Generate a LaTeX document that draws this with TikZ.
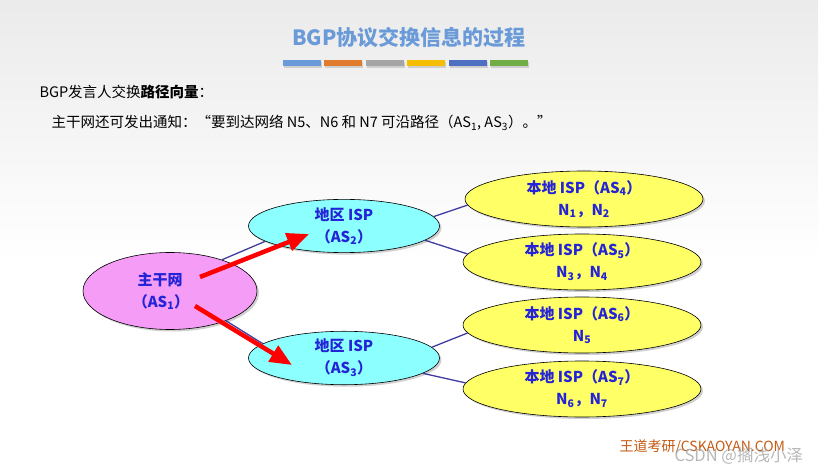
\documentclass[tikz,border=0pt]{standalone}
\usepackage{fontspec}
\setmainfont{Noto Sans CJK SC}
\usetikzlibrary{shapes.geometric,arrows.meta,shadows}
\definecolor{titleblue}{RGB}{106,155,216}
\definecolor{asblue}{RGB}{36,36,214}
\definecolor{linkblue}{RGB}{64,60,160}
\definecolor{backbone}{RGB}{244,156,246}
\definecolor{regional}{RGB}{140,255,255}
\definecolor{localisp}{RGB}{255,255,102}
\definecolor{wdorange}{RGB}{197,90,17}
\begin{document}
\begin{tikzpicture}[x=1pt,y=-1pt,
    asnode/.style={ellipse,draw=black,line width=0.6pt,inner sep=0pt,align=center,
      text=asblue,font=\fontsize{15}{22}\selectfont\bfseries,
      drop shadow={shadow xshift=2pt,shadow yshift=-2pt,opacity=0.3,fill=black!60}},
    link/.style={draw=linkblue,line width=1.3pt},
    advert/.style={draw=red,line width=4.5pt,-{Triangle[length=22pt,width=18pt]}},
    bar/.style={minimum width=38pt,minimum height=5.5pt,inner sep=0pt,
      drop shadow={shadow xshift=1pt,shadow yshift=-2pt,opacity=0.3}}]
    \useasboundingbox (0,0) rectangle (825,473);

    % Background
    \shade[top color=black!8,bottom color=white] (0,0) rectangle (818,260);
    \fill[white] (0,260) rectangle (818,473);

    % Title
    \node[font=\fontsize{21}{25}\selectfont\bfseries,text=titleblue] (title) at (409,38) {BGP协议交换信息的过程};
    \foreach \c [count=\i] in {{rgb,255:red,106;green,155;blue,216},{rgb,255:red,224;green,122;blue,44},
        {rgb,255:red,165;green,165;blue,165},{rgb,255:red,246;green,190;blue,0},
        {rgb,255:red,78;green,112;blue,192},{rgb,255:red,114;green,172;blue,70}}
      \node[bar,fill={\c}] (bar\i) at (260+41.5*\i,63) {};

    % Text
    \node[anchor=west,font=\fontsize{14.5}{17}\selectfont] (line1) at (36,92) {BGP发言人交换\textbf{路径向量}：};
    \node[anchor=west,font=\fontsize{14.5}{17}\selectfont] (line2) at (48,123)
      {主干网还可发出通知：“要到达网络 N5、N6 和 N7 可沿路径（AS\textsubscript{1}, AS\textsubscript{3}）。”};

    % Autonomous systems
    \node[asnode,fill=backbone,minimum width=174pt,minimum height=77pt] (as1) at (170,291)
      {主干网\hspace*{20pt}\\（AS\textsubscript{1}）\hspace*{18pt}};
    \node[asnode,fill=regional,minimum width=191pt,minimum height=46pt] (as2) at (344,226) {地区 ISP\\（AS\textsubscript{2}）};
    \node[asnode,fill=regional,minimum width=191pt,minimum height=46pt] (as3) at (344,358) {地区 ISP\\（AS\textsubscript{3}）};
    \node[asnode,fill=localisp,minimum width=238pt,minimum height=56pt] (as4) at (584,199) {本地 ISP（AS\textsubscript{4}）\\N\textsubscript{1}，N\textsubscript{2}};
    \node[asnode,fill=localisp,minimum width=238pt,minimum height=56pt] (as5) at (582,262) {本地 ISP（AS\textsubscript{5}）\\N\textsubscript{3}，N\textsubscript{4}};
    \node[asnode,fill=localisp,minimum width=238pt,minimum height=56pt] (as6) at (582,325) {本地 ISP（AS\textsubscript{6}）\\N\textsubscript{5}};
    \node[asnode,fill=localisp,minimum width=238pt,minimum height=56pt] (as7) at (582,389) {本地 ISP（AS\textsubscript{7}）\\N\textsubscript{6}，N\textsubscript{7}};

    % Links
    \draw[link] (as1.31) -- (as2.191);
    \draw[link] (as1.-28) -- (as3.170);
    \draw[link] (as2.6) -- (as4.183);
    \draw[link] (as2.-10) -- (as5.176);
    \draw[link] (as3.7) -- (as6.184);
    \draw[link] (as3.-11) -- (as7.177);

    % Path vector
    \coordinate (upstart) at (200,277);
    \coordinate (uptip) at (309,234);
    \coordinate (downstart) at (195,306);
    \coordinate (downtip) at (292,365);
    \draw[advert] (upstart) -- (uptip);
    \draw[advert] (downstart) -- (downtip);

    % Footer
    \node[anchor=west,font=\fontsize{14}{16}\selectfont,text=wdorange] (brand) at (616,447) {王道考研/CSKAOYAN.COM};
    \node[anchor=west,font=\fontsize{16.5}{19}\selectfont,text=black!35,opacity=0.8] (mark) at (671,456) {CSDN @搁浅小泽};
\end{tikzpicture}
\end{document}
